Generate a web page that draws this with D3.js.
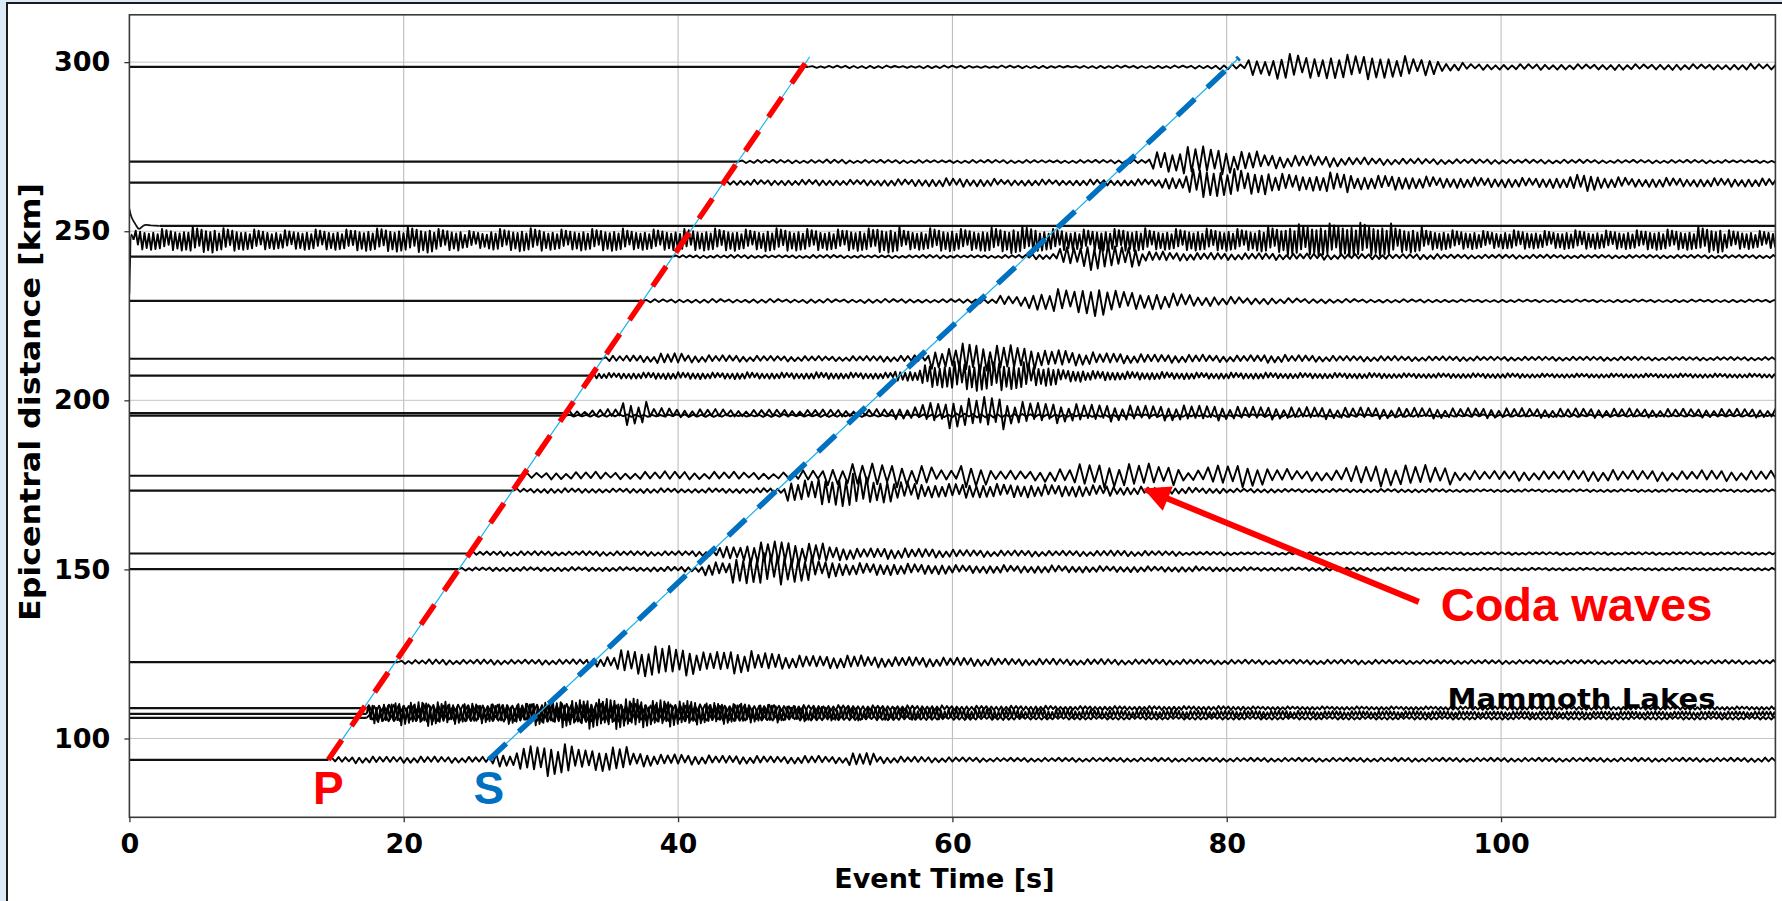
<!DOCTYPE html>
<html><head><meta charset="utf-8">
<script src="https://cdn.jsdelivr.net/npm/d3@7/dist/d3.min.js"></script>
<style>
html,body{margin:0;padding:0;background:#dce9f6;overflow:hidden}
svg{display:block}
</style></head><body>
<svg id="chart" width="1782" height="901"></svg>
<script>
// ---------------- DATA ----------------
const xTicks = [0, 20, 40, 60, 80, 100];
const yTicks = [100, 150, 200, 250, 300];
// station epicentral distances (km), onset of recorded signal (s), half period of dominant wiggle (s)
const distances   = [298.6, 270.6, 264.4, 251.6, 247.5, 242.5, 229.4, 212.3, 207.3, 196.2, 195.5, 177.7, 173.3, 154.7, 150.1, 122.6, 109.0, 107.3, 106.1, 93.7];
const onsets      = [49.5, 44.4, 43.3, 120, 0.3, 39.6, 37.4, 34.5, 33.7, 31.8, 31.8, 28.6, 28.0, 24.8, 24.0, 19.6, 17.3, 17.3, 17.3, 14.5];
const halfPeriods = [0.3, 0.28, 0.25, 0.3, 0.16, 0.25, 0.3, 0.25, 0.18, 0.28, 0.3, 0.36, 0.25, 0.25, 0.25, 0.25, 0.18, 0.14, 0.2, 0.25];
// amplitude envelopes (km), one value per 2 s from the onset
const env1  = [0.3,0.4,0.4,0.3,0.4,0.4,0.3,0.4,0.4,0.3,0.4,0.4,0.4,0.4,0.5,0.8,2.5,3.8,3.4,3.6,3.8,3.2,2.6,1.2,0.9,0.8,0.9,0.8,0.8,0.9,0.8,0.9,0.8,0.8,0.9,0.8];
const env2  = [0.5,0.5,0.5,0.6,0.5,0.5,0.5,0.4,0.5,0.5,0.5,0.4,0.5,0.5,0.6,3.0,4.5,3.8,3.0,2.0,1.8,1.6,1.2,1.0,0.9,0.8,0.7,0.7,0.6,0.6,0.6,0.5,0.5,0.5,0.5,0.5,0.4,0.4];
const env3  = [0.7,0.8,0.8,0.9,0.8,0.9,1.0,1.1,1.3,1.1,0.9,0.9,0.8,0.9,0.9,1.0,1.8,4.5,4.0,3.5,2.6,2.4,3.0,2.0,2.2,1.8,1.6,1.5,1.4,1.4,1.6,2.6,1.6,1.3,1.4,1.2,1.3,1.2,1.2];
const env4  = [0];
const env5  = [3.0,3.2,3.8,3.4,3.0,2.8,3.0,3.0,3.3,3.5,3.8,3.2,2.6,3.2,3.4,3.0,3.2,3.3,3.0,3.1,3.2,3.3,3.0,3.4,3.2,3.0,3.3,3.8,3.0,3.4,3.2,3.6,4.0,3.2,3.0,3.2,3.4,3.0,3.2,3.3,3.2,3.8,4.6,4.8,5.0,4.8,3.8,3.0,2.8,2.6,2.8,2.6,2.8,2.7,2.8,3.0,3.0,3.8,2.8,2.6];
const env6  = [0.4,0.4,0.5,0.4,0.4,0.5,0.4,0.4,0.4,0.5,0.4,0.4,0.5,0.8,2.8,4.5,3.0,1.5,1.2,1.1,1.0,1.0,0.9,0.9,0.8,0.8,0.7,0.8,0.6,0.6,0.6,0.6,0.5,0.5,0.5,0.5,0.5,0.5,0.5,0.5,0.5];
const env7  = [0.5,0.5,0.6,0.5,0.6,0.5,0.6,0.5,0.6,0.6,0.5,0.6,0.7,1.5,2.6,3.5,4.5,3.0,2.5,2.2,1.5,1.2,1.0,0.8,0.7,0.6,0.5,0.5,0.5,0.4,0.4,0.4,0.4,0.4,0.4,0.4,0.4,0.4,0.4,0.4,0.4,0.4];
const env8  = [0.9,1.0,1.6,1.1,1.0,0.9,0.8,0.8,0.7,0.8,0.9,1.0,3.0,4.5,4.0,3.5,2.5,2.0,1.6,1.4,1.2,1.2,1.0,1.0,1.2,1.0,0.9,0.8,0.8,0.7,0.7,0.7,0.6,0.6,0.6,0.6,0.6,0.6,0.5,0.5,0.5,0.5,0.5];
const env9  = [0.8,0.9,1.0,1.0,0.9,1.0,0.9,0.9,1.0,0.9,0.9,1.5,3.5,4.2,4.5,4.0,3.0,1.8,1.4,1.2,1.1,1.0,0.9,0.9,0.9,0.8,0.8,0.8,0.8,0.7,0.7,0.7,0.7,0.7,0.6,0.6,0.6,0.6,0.6,0.6,0.6,0.6,0.6,0.6];
const env10 = [0.8,1.2,3.5,1.5,1.2,1.2,1.0,1.1,1.0,1.1,1.0,1.2,1.8,3.0,4.5,4.8,3.5,3.0,2.8,2.5,2.4,2.2,2.4,2.2,2.0,1.9,1.8,1.8,1.7,1.7,1.6,1.6,1.5,1.5,1.5,1.4,1.4,1.4,1.4,1.3,1.3,1.3,1.3,1.3,1.3];
const env11 = [0.3,0.4,0.4,0.3,0.4,0.4,0.3,0.4,0.3,0.4,0.4,0.3,0.4,0.5,0.6,0.6,0.5,0.5,0.4,0.4,0.4,0.4,0.4,0.4,0.3,0.4,0.4,0.3,0.4,0.3,0.4,0.3,0.3,0.4,0.3,0.3,0.4,0.3,0.3,0.3,0.3,0.3,0.3,0.3,0.3];
const env12 = [0.9,1.1,1.2,1.0,1.2,1.3,1.1,1.2,1.0,1.0,1.6,2.8,3.6,3.4,3.0,1.6,3.4,1.5,1.4,2.0,3.4,3.6,3.6,2.8,1.6,3.0,3.4,2.0,1.5,1.6,2.8,3.2,3.2,2.6,1.5,1.4,1.5,1.4,1.6,1.8,1.5,1.6,1.4,1.6,1.5,1.5];
const env13 = [0.6,0.7,0.7,0.6,0.7,0.7,0.6,0.7,0.7,0.8,3.0,4.2,5.0,3.5,2.5,2.0,2.2,2.0,2.0,1.8,1.8,1.6,1.2,1.0,0.9,0.8,0.6,0.6,0.5,0.5,0.5,0.5,0.5,0.5,0.4,0.4,0.4,0.4,0.4,0.4,0.4,0.4,0.4,0.4,0.4,0.4];
const env14 = [0.6,0.7,0.7,0.6,0.7,0.7,0.7,0.7,0.8,2.0,3.4,3.6,3.0,2.0,1.5,1.6,1.4,1.2,1.0,0.9,0.9,0.8,0.8,0.9,0.8,0.7,0.5,0.5,0.4,0.4,0.4,0.4,0.4,0.4,0.4,0.4,0.4,0.4,0.4,0.4,0.4,0.4,0.4,0.4,0.4,0.4,0.4,0.4];
const env15 = [0.5,0.6,0.6,0.6,0.6,0.6,0.6,0.7,0.8,2.0,4.2,4.8,3.8,2.6,1.8,1.8,1.6,1.5,1.2,1.2,1.1,1.1,1.0,0.9,0.9,0.8,0.8,0.7,0.6,0.5,0.5,0.5,0.5,0.5,0.5,0.4,0.4,0.4,0.4,0.4,0.4,0.4,0.4,0.4,0.4,0.4,0.4,0.4];
const env16 = [0.6,0.8,0.7,0.8,0.7,0.8,0.8,1.5,3.5,4.8,4.0,3.0,3.4,2.6,2.0,1.8,2.0,1.6,1.5,1.4,1.3,1.2,1.0,1.0,0.9,0.9,0.8,0.8,0.8,0.7,0.7,0.7,0.7,0.7,0.7,0.7,0.6,0.6,0.6,0.6,0.6,0.6,0.6,0.6,0.6,0.6,0.6,0.6,0.6,0.6,0.6];
const env17 = [1.0,1.1,1.2,1.0,1.1,1.2,1.3,1.4,1.5,1.4,1.3,1.2,1.1,1.0,1.0,0.9,0.9,0.9,0.8,0.8,0.8,0.7,0.7,0.7,0.7,0.6,0.6,0.6,0.6,0.6,0.6,0.6,0.5,0.5,0.5,0.5,0.5,0.5,0.5,0.5,0.5,0.5,0.5,0.5,0.5,0.5,0.5,0.5,0.5,0.5,0.5,0.5];
const env18 = [2.8,3.4,3.6,3.0,2.8,3.0,3.4,4.0,4.4,4.5,4.0,3.8,3.2,3.0,2.6,2.2,2.0,2.0,1.8,1.8,1.6,1.5,1.4,1.3,1.2,1.2,1.1,1.0,1.0,1.0,0.9,0.9,0.9,0.9,0.8,0.8,0.8,0.8,0.8,0.8,0.7,0.7,0.7,0.7,0.7,0.7,0.7,0.7,0.7,0.7,0.7,0.7];
const env19 = [1.0,1.0,1.1,1.0,1.0,1.1,1.2,1.3,1.2,1.1,1.0,1.0,0.9,0.9,0.8,0.8,0.8,0.7,0.7,0.7,0.6,0.6,0.6,0.6,0.5,0.5,0.5,0.5,0.5,0.5,0.5,0.5,0.5,0.5,0.5,0.5,0.5,0.5,0.5,0.5,0.5,0.5,0.5,0.5,0.5,0.5,0.5,0.5,0.5,0.5,0.5,0.5];
const env20 = [0.8,1.0,0.9,1.0,0.9,0.9,2.0,4.0,4.8,3.0,3.8,2.0,1.6,1.4,1.2,1.2,1.0,1.2,1.0,2.0,1.0,0.9,0.8,0.7,0.6,0.6,0.6,0.6,0.6,0.6,0.6,0.6,0.6,0.6,0.6,0.6,0.6,0.6,0.6,0.6,0.6,0.6,0.6,0.6,0.6,0.6,0.6,0.6,0.6,0.6,0.6,0.6,0.7];
const envelopes = [env1,env2,env3,env4,env5,env6,env7,env8,env9,env10,env11,env12,env13,env14,env15,env16,env17,env18,env19,env20];
// start-up transients (s, km offset) of the two traces at ~250 km
const lead4T = [0, 0.15, 0.45, 0.7, 1.1, 1.6, 2.2];
const lead4V = [5.0, 2.6, 0.4, -0.9, 0.2, 0.1, 0];
const lead5T = [0, 0.05, 0.15, 0.3];
const lead5V = [-16.0, -7.0, 1.5, 0];
// relative heights of successive wiggle peaks (drawing texture)
const peakPattern = [1, 0.7, 0.92, 0.55, 0.85, 1, 0.62, 0.88, 0.48, 0.78, 0.96, 0.66, 0.82, 0.58];
// phase moveout lines: [time s, distance km]
const pLine = [[14.5, 93.7], [49.6, 301.6]];
const sLine = [[26.2, 93.7], [80.9, 301.3]];
const pLabel = [14.5, 80.6];
const sLabel = [26.2, 80.6];
const codaArrow = [[94.0, 140.4], [74.1, 173.6]];
const codaText = [95.6, 134.6];
const lakeText = [96.1, 109.0];

// ---------------- LAYOUT ----------------
const svg = d3.select('#chart');
const L = 129.4, R = 1775.4, T = 14.8, B = 817.3;
const x = d3.scaleLinear().domain([0, 120]).range([L, R]);
const y = d3.scaleLinear().domain([76.7, 314.0]).range([B, T]);

// page frame
svg.append('rect').attr('x', 7).attr('y', 3).attr('width', 1790).attr('height', 910)
  .attr('fill', '#fff').attr('stroke', '#1c1c1c').attr('stroke-width', 2);

const defs = svg.append('defs');
defs.append('clipPath').attr('id', 'clip').append('rect')
  .attr('x', L).attr('y', T).attr('width', R - L).attr('height', B - T);

// grid
const grid = svg.append('g');
grid.selectAll('.vg').data(xTicks.slice(1)).enter().append('line')
  .attr('x1', d => x(d)).attr('x2', d => x(d)).attr('y1', T).attr('y2', B)
  .attr('stroke', '#b8b8b8').attr('stroke-width', 1);
grid.selectAll('.hg').data(yTicks).enter().append('line')
  .attr('x1', L).attr('x2', R).attr('y1', d => y(d)).attr('y2', d => y(d))
  .attr('stroke', '#c4c4c4').attr('stroke-width', 1);

// traces
const traces = svg.append('g').attr('clip-path', 'url(#clip)');
const line = d3.line().x(d => x(d[0])).y(d => y(d[1]));
const smooth = d3.line().x(d => x(d[0])).y(d => y(d[1])).curve(d3.curveCatmullRom.alpha(0.5));
distances.forEach((dist, i) => {
  const on = onsets[i];
  let lead = null;
  if (i === 3) lead = lead4T.map((t, k) => [t, dist + lead4V[k]]);
  if (i === 4) lead = lead5T.map((t, k) => [t, dist + lead5V[k]]);
  const flatStart = lead ? lead[lead.length - 1][0] : 0;
  if (on > flatStart) {
    traces.append('path').attr('d', line([[flatStart, dist], [Math.min(on, 121), dist]]))
      .attr('fill', 'none').attr('stroke', '#111').attr('stroke-width', 2.2);
  }
  if (lead) {
    traces.append('path').attr('d', smooth(lead)).attr('fill', 'none')
      .attr('stroke', '#111').attr('stroke-width', 1.7);
  }
  if (on >= 120) return;
  const env = envelopes[i], hp = halfPeriods[i];
  const pts = [[on, dist]];
  for (let k = 1; ; k++) {
    const t = on + k * hp;
    if (t > 121) break;
    const b = Math.min(Math.floor((t - on) / 2), env.length - 1);
    const s = (k % 2) ? 1 : -1;
    pts.push([t, dist + s * env[b] * peakPattern[(k + i * 5) % peakPattern.length]]);
  }
  traces.append('path').attr('d', line(pts)).attr('fill', 'none')
    .attr('stroke', '#000').attr('stroke-width', 1.9).attr('stroke-linejoin', 'round');
});

// phase lines
function phase(pts, color) {
  svg.append('path').attr('d', line(pts)).attr('stroke', '#1ab2ec').attr('stroke-width', 1.2).attr('fill', 'none');
  svg.append('path').attr('d', line(pts)).attr('stroke', color).attr('stroke-width', 5.5)
    .attr('stroke-dasharray', '24,17').attr('fill', 'none');
}
phase(pLine, '#ff0000');
phase(sLine, '#0070c0');

// axes frame
svg.append('rect').attr('x', L).attr('y', T).attr('width', R - L).attr('height', B - T)
  .attr('fill', 'none').attr('stroke', '#3a3a3a').attr('stroke-width', 1.6);

const xAxis = svg.append('g').attr('transform', `translate(0,${B})`)
  .call(d3.axisBottom(x).tickValues(xTicks).tickSize(5).tickPadding(12).tickFormat(d3.format('d')));
const yAxis = svg.append('g').attr('transform', `translate(${L},0)`)
  .call(d3.axisLeft(y).tickValues(yTicks).tickSize(5).tickPadding(14).tickFormat(d3.format('d')));
[xAxis, yAxis].forEach(a => {
  a.select('.domain').remove();
  a.selectAll('.tick line').attr('stroke', '#333').attr('stroke-width', 1.3);
  a.selectAll('.tick text').attr('fill', '#000')
    .style('font-family', 'DejaVu Sans').style('font-weight', 'bold').style('font-size', '27px');
});

svg.append('text').attr('x', (L + R) / 2 - 8).attr('y', 888).attr('text-anchor', 'middle')
  .style('font-family', 'DejaVu Sans').style('font-weight', 'bold').style('font-size', '27px')
  .text('Event Time [s]');
svg.append('text').attr('transform', 'translate(40,402) rotate(-90)').attr('text-anchor', 'middle')
  .attr('textLength', 438).attr('lengthAdjust', 'spacingAndGlyphs')
  .style('font-family', 'DejaVu Sans').style('font-weight', 'bold').style('font-size', '28px')
  .text('Epicentral distance [km]');

// annotations
svg.append('text').attr('x', x(lakeText[0])).attr('y', y(lakeText[1]))
  .attr('textLength', 268).attr('lengthAdjust', 'spacingAndGlyphs')
  .style('font-family', 'DejaVu Sans').style('font-weight', 'bold').style('font-size', '27px')
  .text('Mammoth Lakes');
svg.append('text').attr('x', x(pLabel[0])).attr('y', y(pLabel[1])).attr('text-anchor', 'middle')
  .attr('fill', '#ff0000').style('font-family', 'Liberation Sans').style('font-weight', 'bold').style('font-size', '46px')
  .text('P');
svg.append('text').attr('x', x(sLabel[0])).attr('y', y(sLabel[1])).attr('text-anchor', 'middle')
  .attr('fill', '#0070c0').style('font-family', 'Liberation Sans').style('font-weight', 'bold').style('font-size', '46px')
  .text('S');
svg.append('text').attr('x', x(codaText[0])).attr('y', y(codaText[1]))
  .attr('fill', '#ff0000').style('font-family', 'Liberation Sans').style('font-weight', 'bold').style('font-size', '47px')
  .text('Coda waves');

defs.append('marker').attr('id', 'ah').attr('viewBox', '0 0 10 10').attr('refX', 9).attr('refY', 5)
  .attr('markerWidth', 4.6).attr('markerHeight', 4.4).attr('markerUnits', 'strokeWidth').attr('orient', 'auto')
  .append('path').attr('d', 'M0,0 L10,5 L0,10 Z').attr('fill', '#ff0000');
svg.append('path').attr('d', line(codaArrow)).attr('stroke', '#ff0000').attr('stroke-width', 6)
  .attr('fill', 'none').attr('marker-end', 'url(#ah)');
</script>
</body></html>
